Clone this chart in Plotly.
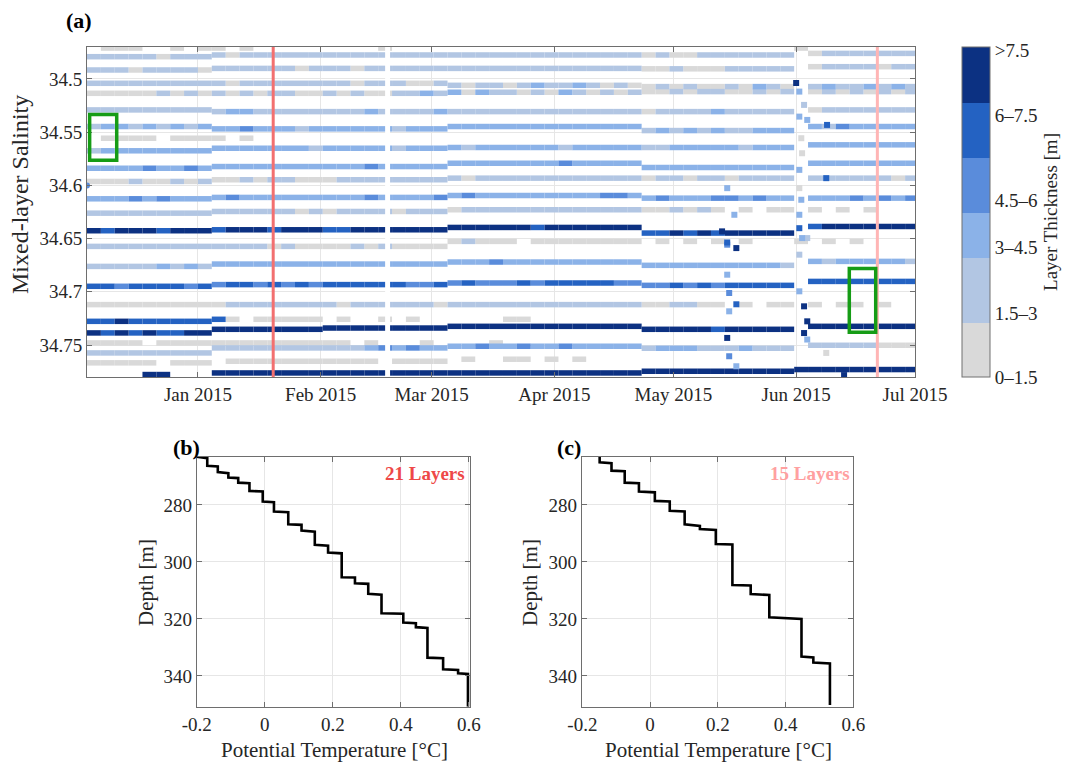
import pandas as pd
import plotly.graph_objects as go

FONT = "Liberation Serif"
TXT = "#262626"
W, H = 1067, 766

# ---------------- panel (a) data ----------------
T0 = "2014-12-04"          # first sample
STEP_DAYS = 3.5            # time resolution of the class strings
SEG_START = [0, 9, 17, 26, 40, 51]   # sample index where each salinity level starts

CLASS_LABELS = ["0\u20131.5", "1.5\u20133", "3\u20134.5", "4.5\u20136", "6\u20137.5", ">7.5"]
CLASS_COLORS = ["#d9d9d9", "#b2c6e3", "#8bb2e8", "#5a8cdb", "#2462c2", "#0c3182"]

# salinity of each layer (one value per SEG_START block)
BAND_SAL = [
    [34.4710, 34.4710, 34.4710, 34.4710, 34.4710, 34.4710],
    [34.4791, 34.4775, 34.4775, 34.4775, 34.4775, 34.4760],
    [34.4916, 34.4901, 34.4901, 34.4901, 34.4905, 34.4885],
    [34.5041, 34.5041, 34.5041, 34.5060, 34.5072, 34.5072],
    [34.5135, 34.5135, 34.5135, 34.5125, 34.5119, 34.5119],
    [34.5291, 34.5307, 34.5307, 34.5307, 34.5307, 34.5291],
    [34.5447, 34.5469, 34.5469, 34.5447, 34.5485, 34.5447],
    [34.5557, 34.5557, 34.5557, 34.5557, 34.5557, 34.5557],
    [34.5675, 34.5651, 34.5651, 34.5644, 34.5644, 34.5619],
    [34.5839, 34.5823, 34.5823, 34.5792, 34.5832, 34.5792],
    [34.5963, 34.5947, 34.5947, 34.5932, 34.5932, 34.5932],
    [34.6126, 34.6113, 34.6113, 34.6095, 34.6120, 34.6120],
    [34.6261, 34.6245, 34.6245, 34.6229, 34.6229, 34.6229],
    [34.6426, 34.6417, 34.6417, 34.6395, 34.6448, 34.6386],
    [34.6573, 34.6573, 34.6573, 34.6526, 34.6526, 34.6526],
    [34.6761, 34.6739, 34.6739, 34.6720, 34.6751, 34.6714],
    [34.6948, 34.6932, 34.6932, 34.6917, 34.6939, 34.6902],
    [34.7120, 34.7120, 34.7120, 34.7120, 34.7120, 34.7120],
    [34.7277, 34.7258, 34.7258, 34.7258, 34.7258, 34.7258],
    [34.7386, 34.7352, 34.7340, 34.7324, 34.7352, 34.7324],
    [34.7480, 34.7480, 34.7480, 34.7480, 34.7480, 34.7480],
    [34.7574, 34.7527, 34.7527, 34.7511, 34.7530, 34.7502],
    [34.7667, 34.7652, 34.7652, 34.7633, 34.7633, 34.7633],
    [34.7777, 34.7762, 34.7762, 34.7762, 34.7746, 34.7730],
]

# thickness class of each layer per 3.5-day sample ('.' = no layer)
BAND_CLS = [
    ".000..0.00.0..." "......0........" "..............." "......0........",
    "111110111101111" "111111111111111" "111111111101001" "111111.01111111",
    "111011110111111" "011101111111111" "111111111100100" "011111.01111011",
    "111111111101111" "111101110011011" "012112101001010" "010210.12112121",
    "000001010101011" "001010011212021" "101021010100101" "100101.01010101",
    "111111111122111" "111112111121111" "111111111101111" "211111.01111111",
    "122121212223222" "122222212222222" "222222222212121" "211222.21322222",
    ".0000.0000.0..." "..............." "..............." "...............",
    "122222222222222" "212222212222122" "222212222211222" "221222.22222222",
    "222232232222222" "222223222222222" "222232222222222" "222222.22222222",
    "000100101001011" "000111111111011" "111111111101101" "101111.11111101",
    "222323222232222" "222223222232322" "222222233223222" "332322.22232323",
    "111111111111111" "010111101110111" "111111111100101" "0.0.00.0.0.0...",
    "545554555455545" "554455555555555" "554555555544545" "455555.45555555",
    "111111111111101" "000010100000100" "0.00000000.0.0." "0.0...0.0.0....",
    "111112121222222" "222222222222223" "222222222222222" "222221.21222221",
    "443444434344343" "434444443343433" "343444443333434" "344444.44444444",
    "000000000011111" "111011111101111" "111111111100110" "0.0.00.0.00.0..",
    "44544444440.000" "00.0..0.0......" "00............." "...............",
    "545454455555555" "555555555555555" "555555555555555" "455555.55555555",
    "0000.0000000000" "0000.0...0....0" "..............." "...............",
    "111111111111111" "111112323222232" "232232222212221" "112111.11111000",
    "00000.000.00000" "000000.0000.0.." "00.0.0........." "...............",
    "....55...555555" "555555555555555" "555555555555555" "555555555555555",
]

# isolated samples (day of 2015, salinity, class)
EXTRA_DAY = [132.3, 133.6, 135.4, 133.6, 135.9, 133.6, 133.6, 134.1, 135.9, 134.1, 133.6, 134.1, 135.9,
             151.0, 151.8, 153.0, 151.8, 153.8, 152.3, 152.5, 151.8, 151.8, 152.3, 151.8, 151.8,
             152.5, 153.8, 151.8, 151.8, 153.0, 153.8, 153.0, 153.8, 158.6, 163.1, 158.8, 158.6]
EXTRA_SAL = [34.6432, 34.6026, 34.6276, 34.6557, 34.6589, 34.6536, 34.6839, 34.7011, 34.7117, 34.7183, 34.7433, 34.7605, 34.7699,
             34.5038, 34.5119, 34.5244, 34.5354, 34.5385, 34.5557, 34.5698, 34.5854, 34.6026, 34.6135, 34.6276, 34.6402,
             34.6495, 34.6495, 34.6651, 34.6995, 34.7136, 34.7277, 34.7387, 34.7448, 34.7574, 34.7782, 34.5432, 34.5932]
EXTRA_CLS = [5, 2, 2, 3, 5, 4, 2, 3, 4, 2, 5, 3, 2,
             5, 2, 1, 2, 2, 0, 0, 2, 0, 2, 2, 4,
             2, 1, 1, 2, 5, 5, 5, 2, 0, 5, 4, 4]

GAP = ("2015-02-17 06:00", "2015-02-18 12:00")
PROFILE_DATES = ["2015-01-20", "2015-06-21 12:00"]
PROFILE_COLORS = ["#f27070", "#ffb5b5"]
PROFILE_TEXT_COLORS = ["#ee4848", "#ffa0a0"]
BOX_X = [("2014-12-04 16:00", "2014-12-11 12:00"), ("2015-06-14 10:00", "2015-06-21 02:00")]
BOX_S = [(34.5335, 34.5764), (34.678, 34.738)]

MONTHS = ["2015-01-01", "2015-02-01", "2015-03-01", "2015-04-01", "2015-05-01", "2015-06-01", "2015-07-01"]
SAL_TICKS = [34.5, 34.55, 34.6, 34.65, 34.7, 34.75]

# ---------------- panels (b), (c) data ----------------
B_START = (-0.2, 263.1)
B_TEMP = [-0.169, -0.138, -0.107, -0.078, -0.045, -0.006, 0.027, 0.069, 0.108, 0.147, 0.186,
          0.226, 0.265, 0.304, 0.343, 0.407, 0.444, 0.478, 0.524, 0.568, 0.597]
B_TOP = [263.6, 266.5, 268.9, 270.6, 272.4, 275.3, 279.1, 282.6, 287.0, 289.4, 294.3,
         297.0, 305.5, 307.7, 311.5, 318.2, 321.5, 323.2, 333.8, 337.9, 339.3]
B_BOT = [266.3, 268.5, 270.4, 272.2, 275.1, 278.8, 282.3, 286.8, 289.0, 294.0, 296.7,
         305.4, 307.5, 311.2, 318.0, 321.3, 322.9, 333.6, 337.7, 339.1, 350.8]

C_TEMP = [-0.149, -0.114, -0.075, -0.033, 0.014, 0.058, 0.102, 0.147, 0.194, 0.243, 0.297,
          0.352, 0.447, 0.482, 0.531]
C_TOP = [263.0, 265.4, 268.2, 272.4, 275.6, 278.8, 282.3, 287.4, 288.8, 293.9, 308.3,
         311.6, 320.0, 333.5, 335.6]
C_BOT = [265.1, 268.0, 272.2, 275.3, 278.6, 282.1, 286.8, 288.5, 293.7, 308.1, 311.3,
         319.4, 333.2, 335.3, 350.2]

T_TICKS = [-0.2, 0, 0.2, 0.4, 0.6]
T_TICKTEXT = ["-0.2", "0", "0.2", "0.4", "0.6"]
D_TICKS = [280, 300, 320, 340]


def px(x):
    return x / W


def py(y):
    return 1 - y / H


fig = go.Figure()

# layer segments, one trace per class
t0 = pd.Timestamp(T0)
seg_x = {k: [] for k in range(6)}
seg_y = {k: [] for k in range(6)}
for sal, cls in zip(BAND_SAL, BAND_CLS):
    for i, ch in enumerate(cls):
        if ch == ".":
            continue
        seg = max(j for j, s in enumerate(SEG_START) if s <= i)
        x0 = t0 + pd.Timedelta(days=STEP_DAYS * i)
        x1 = x0 + pd.Timedelta(days=STEP_DAYS)
        k = int(ch)
        seg_x[k] += [x0.strftime("%Y-%m-%d %H:%M"), x1.strftime("%Y-%m-%d %H:%M"), None]
        seg_y[k] += [sal[seg], sal[seg], None]

for k in range(6):
    fig.add_trace(go.Scatter(x=seg_x[k], y=seg_y[k], mode="lines",
                             line=dict(color=CLASS_COLORS[k], width=5.5),
                             xaxis="x", yaxis="y", showlegend=False, hoverinfo="skip"))

jan1 = pd.Timestamp("2015-01-01")
for k in range(6):
    ex = [(jan1 + pd.Timedelta(days=d)).strftime("%Y-%m-%d %H:%M")
          for d, c in zip(EXTRA_DAY, EXTRA_CLS) if c == k]
    ey = [s for s, c in zip(EXTRA_SAL, EXTRA_CLS) if c == k]
    if ex:
        fig.add_trace(go.Scatter(x=ex, y=ey, mode="markers",
                                 marker=dict(symbol="square", size=6, color=CLASS_COLORS[k], line=dict(width=0)),
                                 xaxis="x", yaxis="y", showlegend=False, hoverinfo="skip"))

# discrete colourbar
bounds = [0, 0.1627, 0.3597, 0.496, 0.6627, 0.8312, 1.0]
cscale = []
for k in range(6):
    cscale += [[bounds[k], CLASS_COLORS[k]], [bounds[k + 1], CLASS_COLORS[k]]]
fig.add_trace(go.Scatter(
    x=[T0], y=[34.6], mode="markers", xaxis="x", yaxis="y", showlegend=False, hoverinfo="skip",
    marker=dict(size=0, color=[0.5], cmin=0, cmax=1, colorscale=cscale, showscale=True,
                colorbar=dict(
                    x=px(962), xanchor="left", xpad=0, ypad=0,
                    y=py(212), yanchor="middle", len=330 / H, lenmode="fraction",
                    thickness=28, thicknessmode="pixels",
                    outlinewidth=1, outlinecolor="#707070", borderwidth=0,
                    tickvals=[0.0, 0.194, 0.394, 0.536, 0.794, 0.99],
                    ticktext=CLASS_LABELS, ticks="",
                    tickfont=dict(family=FONT, size=19, color=TXT),
                    title=dict(text="Layer Thickness [m]", side="right",
                               font=dict(family=FONT, size=19, color=TXT))))))

# profile lines (b) and (c)
bx, by = [B_START[0]], [B_START[1]]
for t, a, b in zip(B_TEMP, B_TOP, B_BOT):
    bx += [t, t]
    by += [a, b]
fig.add_trace(go.Scatter(x=bx, y=by, mode="lines", line=dict(color="black", width=2.6),
                         xaxis="x2", yaxis="y2", showlegend=False))
cx, cy = [], []
for t, a, b in zip(C_TEMP, C_TOP, C_BOT):
    cx += [t, t]
    cy += [a, b]
fig.add_trace(go.Scatter(x=cx, y=cy, mode="lines", line=dict(color="black", width=2.6),
                         xaxis="x3", yaxis="y3", showlegend=False))

axis_common = dict(showline=True, linecolor="#6e6e6e", linewidth=1, mirror="ticks",
                   ticks="inside", ticklen=5, tickcolor="#6e6e6e", automargin=False,
                   showgrid=True, gridcolor="#e6e6e6", gridwidth=1, zeroline=False,
                   tickfont=dict(family=FONT, size=19, color=TXT))

shapes = [
    dict(type="rect", xref="x", yref="y", x0=GAP[0], x1=GAP[1], y0=34.47, y1=34.78,
         fillcolor="white", line=dict(width=0), layer="above"),
]
for d, c in zip(PROFILE_DATES, PROFILE_COLORS):
    shapes.append(dict(type="line", xref="x", yref="y domain", x0=d, x1=d, y0=0, y1=1,
                       line=dict(color=c, width=3), layer="above"))
for (xa, xb), (sa, sb) in zip(BOX_X, BOX_S):
    shapes.append(dict(type="rect", xref="x", yref="y", x0=xa, x1=xb, y0=sa, y1=sb,
                       line=dict(color="#169c16", width=3.5), fillcolor="rgba(0,0,0,0)", layer="above"))


def ann(text, x, y, size=21, angle=0, bold=False, color=None):
    if color is None:
        color = "black" if bold else TXT
    return dict(text=f"<b>{text}</b>" if bold else text, x=px(x), y=py(y), xref="paper", yref="paper",
                showarrow=False, textangle=angle, xanchor="center", yanchor="middle",
                font=dict(family=FONT, size=size, color=color))


annotations = [
    ann("(a)", 79, 20, size=22, bold=True),
    ann("(b)", 186, 447, size=22, bold=True),
    ann("(c)", 569, 447, size=22, bold=True),
    ann("Mixed-layer Salinity", 20, 195, size=24, angle=-90),
    ann("Depth [m]", 146, 583, angle=-90),
    ann("Depth [m]", 530, 583, angle=-90),
    ann("Potential Temperature [\u00b0C]", 334, 750),
    ann("Potential Temperature [\u00b0C]", 718, 750),
    ann("21 Layers", 425, 473, size=19, bold=True, color=PROFILE_TEXT_COLORS[0]),
    ann("15 Layers", 810, 473, size=19, bold=True, color=PROFILE_TEXT_COLORS[1]),
]

fig.update_layout(
    width=W, height=H, margin=dict(l=0, r=0, t=0, b=0, autoexpand=False),
    paper_bgcolor="white", plot_bgcolor="white", showlegend=False,
    font=dict(family=FONT, color=TXT),
    xaxis=dict(domain=[px(87), px(915)], anchor="y", type="date",
               range=["2014-12-04", "2015-07-01"], tickvals=MONTHS, tickformat="%b %Y", **axis_common),
    yaxis=dict(domain=[py(377), py(47)], anchor="x", range=[34.78, 34.47],
               tickvals=SAL_TICKS, ticktext=[f"{v:g}" for v in SAL_TICKS], **axis_common),
    xaxis2=dict(domain=[px(196.7), px(470)], anchor="y2", range=[-0.2, 0.603],
                tickvals=T_TICKS, ticktext=T_TICKTEXT, **axis_common),
    yaxis2=dict(domain=[py(706.7), py(456.7)], anchor="x2", range=[350.8, 263.1],
                tickvals=D_TICKS, **axis_common),
    xaxis3=dict(domain=[px(581.7), px(853.3)], anchor="y3", range=[-0.202, 0.6],
                tickvals=T_TICKS, ticktext=T_TICKTEXT, **axis_common),
    yaxis3=dict(domain=[py(706.7), py(456.7)], anchor="x3", range=[350.8, 263.1],
                tickvals=D_TICKS, **axis_common),
    shapes=shapes, annotations=annotations,
)

fig.write_html("out.html", config={"displayModeBar": False},
               post_script="document.body.style.margin='0';")
